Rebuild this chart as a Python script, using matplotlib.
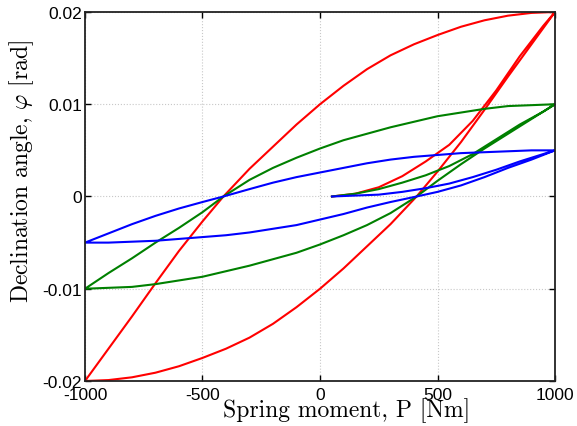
import numpy as np
import matplotlib
matplotlib.use("Agg")
from matplotlib import pyplot as plt

# values (P in Nm, phi in rad)
# red loop, amplitude 0.02
red_virgin_P = [51, 150, 250, 350, 450, 550, 650, 750, 850, 950, 1000]
red_virgin_phi = [0.0, 0.0003, 0.0010, 0.0022, 0.0038, 0.0056, 0.0082, 0.0115, 0.0152,
                  0.0185, 0.0200]
red_down_P = [1000, 900, 800, 700, 600, 500, 400, 300, 200, 100, 0, -100, -200, -300,
              -411, -500, -600, -700, -800, -900, -1000]
red_down_phi = [0.0200, 0.0199, 0.0196, 0.0191, 0.0184, 0.0175, 0.0165, 0.0153, 0.0138,
                0.0120, 0.0100, 0.0078, 0.0054, 0.0030, 0.0, -0.0027, -0.0059, -0.0094,
                -0.0130, -0.0165, -0.0200]
red_up_P = [-1000, -900, -800, -700, -600, -500, -400, -300, -200, -100, 0, 100, 200, 300,
            411, 500, 600, 700, 800, 900, 1000]
red_up_phi = [-0.0200, -0.0199, -0.0196, -0.0191, -0.0184, -0.0175, -0.0165, -0.0153,
              -0.0138, -0.0120, -0.0100, -0.0078, -0.0054, -0.0030, 0.0, 0.0027, 0.0059,
              0.0094, 0.0130, 0.0165, 0.0200]

# green loop, amplitude 0.01
green_virgin_P = [51, 150, 250, 350, 450, 550, 650, 750, 850, 950, 1000]
green_virgin_phi = [0.0, 0.0003, 0.0008, 0.0015, 0.0023, 0.0033, 0.0046, 0.0062, 0.0078,
                    0.0092, 0.0100]
green_down_P = [1000, 900, 800, 700, 600, 500, 400, 300, 200, 100, 0, -100, -200, -300,
                -411, -500, -600, -700, -800, -900, -1000]
green_down_phi = [0.0100, 0.0099, 0.0098, 0.0095, 0.0091, 0.0087, 0.0081, 0.0075, 0.0068,
                  0.0061, 0.0052, 0.0042, 0.0031, 0.0018, 0.0, -0.0017, -0.0034, -0.0050,
                  -0.0067, -0.0083, -0.0100]
green_up_P = [-1000, -900, -800, -700, -600, -500, -400, -300, -200, -100, 0, 100, 200,
              300, 411, 500, 600, 700, 800, 900, 1000]
green_up_phi = [-0.0100, -0.0099, -0.0098, -0.0095, -0.0091, -0.0087, -0.0081, -0.0075,
                -0.0068, -0.0061, -0.0052, -0.0042, -0.0031, -0.0018, 0.0, 0.0017, 0.0035,
                0.0052, 0.0068, 0.0084, 0.0100]

# blue loop, amplitude 0.005
blue_virgin_P = [51, 150, 250, 350, 450, 550, 650, 750, 850, 950, 1000]
blue_virgin_phi = [0.0, 0.0001, 0.0002, 0.0005, 0.0009, 0.0014, 0.0021, 0.0029, 0.0038,
                   0.0046, 0.0050]
blue_down_P = [1000, 900, 800, 700, 600, 500, 400, 300, 200, 100, 0, -100, -200, -300,
               -411, -500, -600, -700, -800, -900, -1000]
blue_down_phi = [0.0050, 0.0050, 0.0049, 0.0048, 0.0047, 0.0045, 0.0043, 0.0040, 0.0036,
                 0.0031, 0.0026, 0.0021, 0.0015, 0.0008, 0.0, -0.0006, -0.0013, -0.0021,
                 -0.0030, -0.0040, -0.0050]
blue_up_P = [-1000, -900, -800, -700, -600, -500, -400, -300, -200, -100, 0, 100, 200, 300,
             411, 500, 600, 700, 800, 900, 1000]
blue_up_phi = [-0.0050, -0.0050, -0.0049, -0.0048, -0.0046, -0.0044, -0.0042, -0.0039,
               -0.0035, -0.0031, -0.0025, -0.0019, -0.0012, -0.0006, 0.0, 0.0005, 0.0012,
               0.0021, 0.0031, 0.0040, 0.0050]

x_ticks = [-1000, -500, 0, 500, 1000]
y_ticks = [-0.02, -0.01, 0, 0.01, 0.02]
y_ticklabels = ["-0.02", "-0.01", "0", "0.01", "0.02"]

plt.rcParams["mathtext.fontset"] = "cm"
plt.rcParams["axes.unicode_minus"] = False
plt.rcParams["font.family"] = ["Liberation Sans", "DejaVu Sans"]

fig = plt.figure(figsize=(5.77, 4.27), dpi=100)
ax = fig.add_axes([0.1473, 0.1054, 0.8146, 0.8642])

loops = [
    ("red", red_virgin_P, red_virgin_phi, red_down_P, red_down_phi, red_up_P, red_up_phi),
    ("green", green_virgin_P, green_virgin_phi, green_down_P, green_down_phi,
     green_up_P, green_up_phi),
    ("blue", blue_virgin_P, blue_virgin_phi, blue_down_P, blue_down_phi,
     blue_up_P, blue_up_phi),
]
colors = {"red": (1, 0, 0), "green": (0, 0.5, 0), "blue": (0, 0, 1)}
for name, vP, vphi, dP, dphi, uP, uphi in loops:
    P = np.concatenate([vP, dP, uP])
    phi = np.concatenate([vphi, dphi, uphi])
    ax.plot(P, phi, color=colors[name], lw=1.5, solid_joinstyle="round")

ax.set_xlim(-1000, 1000)
ax.set_ylim(-0.02, 0.02)
ax.set_xticks(x_ticks)
ax.set_xticklabels([str(t) for t in x_ticks])
ax.set_yticks(y_ticks)
ax.set_yticklabels(y_ticklabels)
ax.grid(True, color="#c8c8c8", linestyle=":", linewidth=0.8)
ax.tick_params(direction="in", top=True, right=True, length=4, width=1,
               labelsize=12.5)
ax.tick_params(axis="x", pad=4)
ax.tick_params(axis="y", pad=2)
for s in ax.spines.values():
    s.set_linewidth(1.3)
    s.set_color("#222222")

# serif labels in Computer Modern (cmr10 ships with matplotlib)
ax.set_xlabel("Spring moment, P [Nm]", fontsize=17, fontfamily="cmr10")
ax.xaxis.set_label_coords(0.557, -0.043)
ax.set_ylabel(r"Declination angle, $\varphi$ [rad]", fontsize=17, fontfamily="cmr10")
ax.yaxis.set_label_coords(-0.105, 0.572)

fig.savefig("out.png", dpi=100)
